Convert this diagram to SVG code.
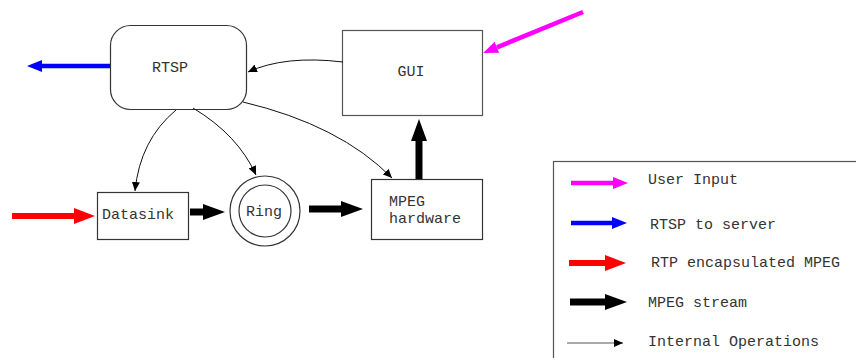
<svg xmlns="http://www.w3.org/2000/svg" width="856" height="358" viewBox="0 0 856 358">
  <style>
    text { font-family: "Liberation Mono", "DejaVu Sans Mono", monospace; font-size: 15px; fill: #333; }
    .box { fill: #fff; stroke: #333; stroke-width: 1.2; }
    .thin { fill: none; stroke: #111; stroke-width: 1; }
    .mag { stroke: #ff00ff; stroke-width: 4.5; }
    .blue { stroke: #0000ff; stroke-width: 4.5; }
    .red { stroke: #ff0000; stroke-width: 6; }
    .blk { stroke: #000; stroke-width: 7; }
  </style>
  <defs>
    <marker id="hMag" markerUnits="userSpaceOnUse" markerWidth="15" markerHeight="12" refX="0" refY="6" orient="auto">
      <path d="M0,0 L15,6 L0,12 z" fill="#ff00ff"/>
    </marker>
    <marker id="hBlue" markerUnits="userSpaceOnUse" markerWidth="15" markerHeight="12" refX="0" refY="6" orient="auto">
      <path d="M0,0 L15,6 L0,12 z" fill="#0000ff"/>
    </marker>
    <marker id="hRed" markerUnits="userSpaceOnUse" markerWidth="21" markerHeight="16" refX="0" refY="8" orient="auto">
      <path d="M0,0 L21,8 L0,16 z" fill="#ff0000"/>
    </marker>
    <marker id="hBlk" markerUnits="userSpaceOnUse" markerWidth="22" markerHeight="16" refX="0" refY="8" orient="auto">
      <path d="M0,0 L22,8 L0,16 z" fill="#000"/>
    </marker>
    <marker id="hThin" markerUnits="userSpaceOnUse" markerWidth="9" markerHeight="8" refX="9" refY="4" orient="auto">
      <path d="M0,0 L9,4 L0,8 z" fill="#000"/>
    </marker>
  </defs>

  <!-- nodes -->
  <g id="rtsp">
    <rect class="box" x="110.5" y="25.5" width="136" height="84" rx="20" ry="20"/>
    <text x="170" y="72" text-anchor="middle">RTSP</text>
  </g>
  <g id="gui">
    <rect class="box" x="342.5" y="30.5" width="140" height="85" style="stroke:#555"/>
    <text x="411" y="76" text-anchor="middle">GUI</text>
  </g>
  <g id="datasink">
    <rect class="box" x="97.5" y="192.5" width="91" height="47"/>
    <text x="102" y="219">Datasink</text>
  </g>
  <g id="ring">
    <circle class="box" cx="265" cy="211" r="35"/>
    <circle class="box" cx="265" cy="211" r="26"/>
    <text x="264" y="216" text-anchor="middle">Ring</text>
  </g>
  <g id="mpeg">
    <rect class="box" x="371.5" y="179.5" width="111" height="60"/>
    <text x="389" y="206">MPEG</text>
    <text x="389" y="223">hardware</text>
  </g>

  <!-- connectors -->
  <g id="connectors">
    <line class="mag" x1="583" y1="12" x2="497" y2="47.3" marker-end="url(#hMag)"/>
    <line class="blue" x1="110" y1="66" x2="42" y2="66" marker-end="url(#hBlue)"/>
    <line class="red" x1="12" y1="216" x2="74" y2="216" marker-end="url(#hRed)"/>
    <line class="blk" x1="190" y1="212" x2="203" y2="212" marker-end="url(#hBlk)"/>
    <line class="blk" x1="309" y1="209" x2="341" y2="209" marker-end="url(#hBlk)"/>
    <line class="blk" x1="419" y1="179" x2="419" y2="141" marker-end="url(#hBlk)"/>
    <path class="thin" d="M343,62 Q285,55 248,72" marker-end="url(#hThin)"/>
    <path class="thin" d="M176,110 Q140,140 135,191" marker-end="url(#hThin)"/>
    <path class="thin" d="M193,108 Q238,135 256,175" marker-end="url(#hThin)"/>
    <path class="thin" d="M243,102 Q340,125 392,178" marker-end="url(#hThin)"/>
  </g>

  <!-- legend -->
  <g id="legend">
    <rect x="553.5" y="161.5" width="320" height="220" fill="none" stroke="#555" stroke-width="1.2"/>
    <line class="mag" x1="571" y1="183" x2="613" y2="183" marker-end="url(#hMag)"/>
    <text x="648" y="184">User Input</text>
    <line class="blue" x1="571" y1="223" x2="612" y2="223" marker-end="url(#hBlue)"/>
    <text x="650" y="229">RTSP to server</text>
    <line class="red" x1="569" y1="263" x2="605" y2="263" marker-end="url(#hRed)"/>
    <text x="651" y="267">RTP encapsulated MPEG</text>
    <line class="blk" x1="570" y1="302" x2="605" y2="302" marker-end="url(#hBlk)"/>
    <text x="648" y="307">MPEG stream</text>
    <line x1="567" y1="343" x2="623" y2="343" stroke="#555" stroke-width="1.2" marker-end="url(#hThin)"/>
    <text x="648" y="346">Internal Operations</text>
  </g>
</svg>
